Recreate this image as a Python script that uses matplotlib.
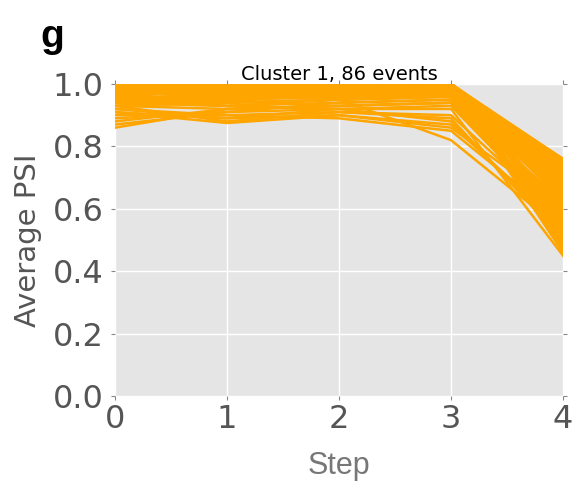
import matplotlib
matplotlib.use('Agg')
from matplotlib import pyplot as plt

# Average PSI of each event at steps 0..4 (86 events)
steps = [0, 1, 2, 3, 4]
s0 = [1.00, 0.99, 1.00, 0.98, 0.97, 1.00, 0.96, 0.99, 0.95, 1.00,
      0.98, 0.94, 1.00, 0.97, 0.99, 0.93, 1.00, 0.96, 0.98, 1.00,
      0.95, 0.99, 0.92, 1.00, 0.97, 0.98, 1.00, 0.94, 0.99, 0.96,
      1.00, 0.91, 0.98, 0.97, 1.00, 0.95, 0.99, 0.93, 1.00, 0.98,
      0.96, 1.00, 0.90, 0.99, 0.97, 1.00, 0.94, 0.98, 0.89, 1.00,
      0.99, 0.96, 1.00, 0.92, 0.97, 0.98, 1.00, 0.95, 0.99, 0.88,
      1.00, 0.97, 0.93, 0.99, 1.00, 0.96, 0.98, 0.87, 1.00, 0.94,
      0.99, 0.97, 1.00, 0.91, 0.98, 0.95, 1.00, 0.99, 0.86, 0.96,
      1.00, 0.98, 0.93, 0.99, 0.97, 1.00]
s1 = [0.99, 1.00, 0.98, 0.97, 1.00, 0.96, 0.99, 1.00, 0.94, 0.98,
      1.00, 0.95, 0.99, 0.98, 1.00, 0.88, 0.97, 1.00, 0.96, 0.99,
      0.93, 1.00, 0.89, 0.98, 1.00, 0.95, 0.99, 0.97, 1.00, 0.94,
      0.98, 0.875, 1.00, 0.99, 0.96, 1.00, 0.97, 0.92, 0.99, 1.00,
      0.95, 0.98, 0.90, 1.00, 0.99, 0.97, 0.93, 1.00, 0.91, 0.98,
      1.00, 0.96, 0.99, 0.90, 1.00, 0.97, 0.98, 0.94, 1.00, 0.92,
      0.99, 1.00, 0.95, 0.98, 0.97, 1.00, 0.99, 0.91, 0.96, 0.93,
      1.00, 0.98, 0.99, 0.89, 1.00, 0.96, 0.97, 1.00, 0.92, 0.95,
      0.99, 1.00, 0.94, 0.98, 1.00, 0.97]
s2 = [1.00, 0.99, 0.98, 1.00, 0.97, 0.99, 1.00, 0.96, 0.98, 1.00,
      0.99, 0.97, 1.00, 0.95, 0.99, 0.91, 1.00, 0.98, 0.97, 1.00,
      0.94, 0.99, 0.92, 1.00, 0.98, 0.96, 1.00, 0.99, 0.97, 0.95,
      1.00, 0.90, 0.99, 0.98, 1.00, 0.97, 0.96, 0.93, 1.00, 0.99,
      0.98, 1.00, 0.89, 0.99, 0.97, 1.00, 0.95, 0.98, 0.92, 1.00,
      0.99, 0.96, 1.00, 0.91, 0.98, 0.99, 0.97, 0.95, 1.00, 0.93,
      1.00, 0.99, 0.96, 0.97, 1.00, 0.98, 0.99, 0.94, 0.97, 0.92,
      0.99, 1.00, 0.98, 0.90, 0.99, 0.97, 1.00, 0.99, 0.93, 0.96,
      1.00, 0.98, 0.95, 1.00, 0.99, 0.97]
s3 = [1.00, 1.00, 0.99, 1.00, 0.98, 1.00, 1.00, 0.97, 0.99, 1.00,
      1.00, 0.98, 1.00, 0.82, 1.00, 0.90, 1.00, 0.99, 0.96, 1.00,
      0.95, 1.00, 0.88, 1.00, 0.99, 0.97, 1.00, 1.00, 0.98, 0.96,
      1.00, 0.87, 1.00, 0.99, 1.00, 0.98, 0.96, 0.94, 1.00, 1.00,
      0.99, 1.00, 0.85, 1.00, 0.98, 1.00, 0.96, 0.99, 0.92, 1.00,
      1.00, 0.97, 1.00, 0.89, 0.99, 1.00, 0.98, 0.96, 1.00, 0.94,
      1.00, 1.00, 0.97, 0.98, 1.00, 0.99, 1.00, 0.95, 0.98, 0.93,
      1.00, 1.00, 0.99, 0.86, 1.00, 0.98, 1.00, 1.00, 0.94, 0.97,
      1.00, 0.99, 0.96, 1.00, 1.00, 0.98]
s4 = [0.76, 0.62, 0.71, 0.55, 0.74, 0.68, 0.50, 0.73, 0.58, 0.66,
      0.75, 0.60, 0.70, 0.53, 0.64, 0.57, 0.72, 0.49, 0.67, 0.75,
      0.61, 0.69, 0.52, 0.74, 0.56, 0.65, 0.71, 0.47, 0.63, 0.59,
      0.73, 0.54, 0.68, 0.76, 0.62, 0.51, 0.70, 0.58, 0.66, 0.72,
      0.48, 0.64, 0.56, 0.75, 0.60, 0.69, 0.53, 0.73, 0.45, 0.67,
      0.57, 0.71, 0.63, 0.50, 0.74, 0.59, 0.66, 0.55, 0.72, 0.61,
      0.69, 0.46, 0.64, 0.70, 0.58, 0.75, 0.52, 0.62, 0.68, 0.56,
      0.73, 0.65, 0.49, 0.60, 0.71, 0.54, 0.67, 0.74, 0.57, 0.63,
      0.70, 0.51, 0.65, 0.72, 0.59, 0.68]
yticks = [0.0, 0.2, 0.4, 0.6, 0.8, 1.0]
ytick_labels = ['0.0', '0.2', '0.4', '0.6', '0.8', '1.0']

fig = plt.figure(figsize=(5.8, 4.96), dpi=100)
ax = fig.add_axes([115 / 580, 1 - 396 / 496, 448 / 580, 312 / 496])
ax.set_facecolor('#E5E5E5')
for sp in ax.spines.values():
    sp.set_visible(False)
ax.grid(True, color='white', linewidth=1)
ax.set_axisbelow(True)

for row in zip(s0, s1, s2, s3, s4):
    ax.plot(steps, row, color='#FFA500', linewidth=1.8)

ax.set_xlim(0, 4)
ax.set_ylim(0, 1)
ax.set_xticks(steps)
ax.set_yticks(yticks)
ax.set_yticklabels(ytick_labels)
ax.tick_params(axis='both', direction='out', length=3, color='#888888',
               labelsize=23, labelcolor='#555555', top=True, right=True)
ax.tick_params(axis='y', pad=5)
ax.tick_params(axis='x', pad=3)

ax.set_title('Cluster 1, 86 events', fontsize=14, pad=3)
ax.set_ylabel('Average PSI', fontsize=21, color='#555555', labelpad=8)
ax.set_xlabel('Step', fontsize=22, color='#777777', family='Liberation Sans', labelpad=11)

fig.text(40 / 580, 1 - 47 / 496, 'g', fontsize=28, fontweight='bold',
         family='Liberation Sans', va='baseline')

fig.savefig('out.png', dpi=100)
